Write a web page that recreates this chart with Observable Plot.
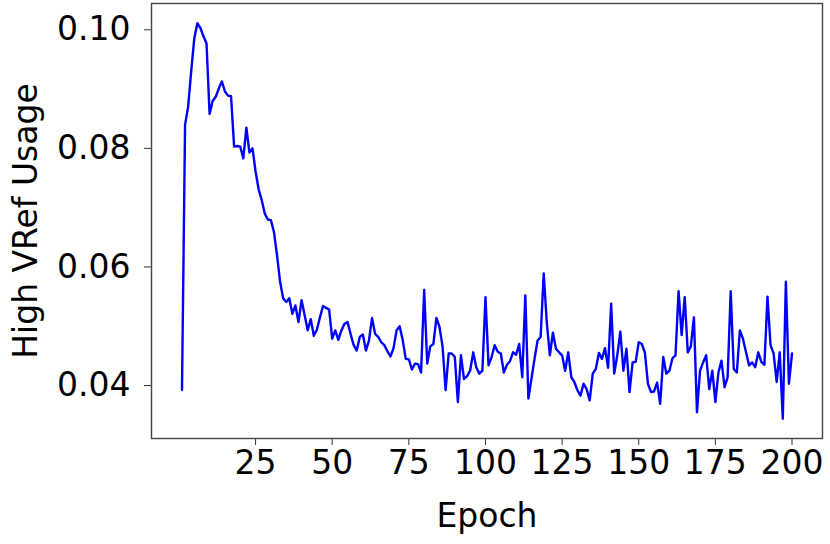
<!DOCTYPE html>
<html>
<head>
<meta charset="utf-8">
<script src="https://cdn.jsdelivr.net/npm/d3@7"></script>
<script src="https://cdn.jsdelivr.net/npm/@observablehq/plot@0.6"></script>
<style>
  html, body { margin: 0; padding: 0; background: #fff; }
  #chart svg { display: block; }
</style>
</head>
<body>
<div id="chart"></div>
<script>
const usage = [
  0.0393, 0.0840, 0.0870, 0.0930, 0.0985, 0.1011, 0.1003, 0.0989, 0.0977, 0.0858,
  0.0880, 0.0887, 0.0901, 0.0913, 0.0896, 0.0889, 0.0888, 0.0803, 0.0804, 0.0803,
  0.0783, 0.0835, 0.0793, 0.0800, 0.0761, 0.0731, 0.0713, 0.0690, 0.0680, 0.0679,
  0.0659, 0.0620, 0.0575, 0.0547, 0.0541, 0.0547, 0.0521, 0.0535, 0.0507, 0.0544,
  0.0519, 0.0493, 0.0512, 0.0484, 0.0494, 0.0515, 0.0534, 0.0531, 0.0528, 0.0479,
  0.0493, 0.0477, 0.0493, 0.0504, 0.0507, 0.0487, 0.0468, 0.0459, 0.0482, 0.0486,
  0.0459, 0.0476, 0.0514, 0.0487, 0.0482, 0.0473, 0.0468, 0.0458, 0.0449, 0.0463,
  0.0493, 0.0500, 0.0477, 0.0445, 0.0444, 0.0427, 0.0437, 0.0436, 0.0422, 0.0561,
  0.0437, 0.0466, 0.0470, 0.0514, 0.0499, 0.0466, 0.0392, 0.0454, 0.0454, 0.0448,
  0.0372, 0.0451, 0.0411, 0.0416, 0.0425, 0.0456, 0.0431, 0.0420, 0.0425, 0.0549,
  0.0434, 0.0448, 0.0468, 0.0457, 0.0454, 0.0422, 0.0435, 0.0441, 0.0456, 0.0452,
  0.0470, 0.0414, 0.0552, 0.0378, 0.0411, 0.0445, 0.0476, 0.0482, 0.0589, 0.0507,
  0.0451, 0.0489, 0.0462, 0.0456, 0.0451, 0.0425, 0.0456, 0.0414, 0.0406, 0.0392,
  0.0383, 0.0403, 0.0394, 0.0375, 0.0420, 0.0428, 0.0455, 0.0445, 0.0463, 0.0430,
  0.0538, 0.0420, 0.0451, 0.0491, 0.0425, 0.0462, 0.0389, 0.0439, 0.0440, 0.0473,
  0.0470, 0.0456, 0.0403, 0.0389, 0.0390, 0.0405, 0.0369, 0.0448, 0.0420, 0.0425,
  0.0446, 0.0451, 0.0559, 0.0485, 0.0549, 0.0456, 0.0466, 0.0515, 0.0355, 0.0425,
  0.0439, 0.0451, 0.0394, 0.0425, 0.0372, 0.0422, 0.0442, 0.0397, 0.0414, 0.0559,
  0.0428, 0.0422, 0.0493, 0.0479, 0.0456, 0.0434, 0.0439, 0.0431, 0.0456, 0.0440,
  0.0435, 0.0550, 0.0468, 0.0454, 0.0406, 0.0456, 0.0344, 0.0575, 0.0403, 0.0454
];
const epochs = d3.range(1, usage.length + 1);
const xTicks = [25, 50, 75, 100, 125, 150, 175, 200];
const yTicks = [0.04, 0.06, 0.08, 0.10];
const xLabel = "Epoch";
const yLabel = "High VRef Usage";

const data = epochs.map((e, i) => ({epoch: e, value: usage[i]}));

// matplotlib-style 5% margins
const xPad = (d3.max(epochs) - d3.min(epochs)) * 0.05;
const yPad = (d3.max(usage) - d3.min(usage)) * 0.05;

const chart = Plot.plot({
  width: 830,
  height: 544,
  marginLeft: 151,
  marginRight: 8,
  marginTop: 3,
  marginBottom: 106,
  style: {fontFamily: "DejaVu Sans", fontSize: "33px", color: "#000", background: "#fff"},
  x: {domain: [d3.min(epochs) - xPad, d3.max(epochs) + xPad]},
  y: {domain: [d3.min(usage) - yPad, d3.max(usage) + yPad]},
  marks: [
    Plot.axisX({ticks: xTicks, tickSize: 7, tickPadding: 5, tickFormat: d => String(d),
      label: xLabel, labelAnchor: "center", labelArrow: "none", labelOffset: 88, stroke: "#333"}),
    Plot.axisY({ticks: yTicks, tickSize: 7, tickPadding: 14, tickFormat: d3.format(".2f"),
      label: yLabel, labelAnchor: "center", labelArrow: "none", labelOffset: 138, stroke: "#333"}),
    Plot.line(data, {x: "epoch", y: "value", stroke: "#0000ff", strokeWidth: 2.4}),
    Plot.frame({stroke: "#444", strokeWidth: 1.4})
  ]
});
document.getElementById("chart").appendChild(chart);
</script>
</body>
</html>
